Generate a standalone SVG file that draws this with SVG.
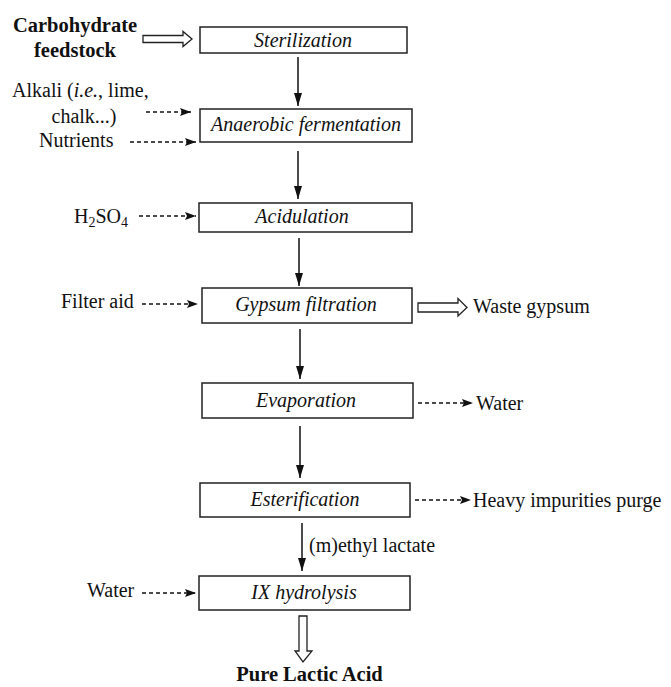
<svg xmlns="http://www.w3.org/2000/svg" width="671" height="687" viewBox="0 0 671 687">
<defs>
<marker id="ah" markerUnits="userSpaceOnUse" markerWidth="12" markerHeight="10" refX="11" refY="5" orient="auto">
<path d="M0,1 L11,5 L0,9 L2,5 Z" fill="#111"/>
</marker>
<marker id="av" markerUnits="userSpaceOnUse" markerWidth="14" markerHeight="10" refX="13" refY="5" orient="auto">
<path d="M0,1 L13,5 L0,9 Z" fill="#111"/>
</marker>
<style>
.box{fill:#fff;stroke:#222;stroke-width:1.5}
.lbl{font-family:"Liberation Serif","Times New Roman",serif;font-size:20px;font-style:italic;fill:#111;text-anchor:middle}
.t{font-family:"Liberation Serif","Times New Roman",serif;font-size:20px;fill:#111}
.b{font-family:"Liberation Serif","Times New Roman",serif;font-size:20.5px;font-weight:bold;fill:#111;text-anchor:middle}
.solid{stroke:#111;stroke-width:1.5;fill:none;marker-end:url(#av)}
.dash{stroke:#111;stroke-width:1.3;fill:none;stroke-dasharray:4 3;marker-end:url(#ah)}
.hollow{fill:#fff;stroke:#222;stroke-width:1.3;stroke-linejoin:miter}
</style>
</defs>
<rect width="671" height="687" fill="#fff"/>

<g id="connectors">
<line class="solid" x1="298" y1="57" x2="298" y2="106"/>
<line class="solid" x1="298" y1="151" x2="298" y2="199"/>
<line class="solid" x1="299" y1="238" x2="299" y2="286"/>
<line class="solid" x1="300" y1="329" x2="300" y2="379"/>
<line class="solid" x1="300" y1="426" x2="300" y2="478"/>
<line class="solid" x1="302" y1="523" x2="302" y2="571"/>
<line class="dash" x1="146" y1="112" x2="191" y2="112"/>
<line class="dash" x1="130" y1="142" x2="196" y2="142"/>
<line class="dash" x1="139" y1="216" x2="196" y2="216"/>
<line class="dash" x1="142" y1="304" x2="198" y2="304"/>
<line class="dash" x1="142" y1="593" x2="196" y2="593"/>
<line class="dash" x1="418" y1="403" x2="473" y2="403"/>
<line class="dash" x1="415" y1="500" x2="471" y2="500"/>
<path class="hollow" d="M143,35.5 L183,35.5 L183,31.5 L192,39 L183,46.5 L183,42.5 L143,42.5 Z"/>
<path class="hollow" d="M418,303 L458,303 L458,298.5 L467,307.5 L458,316 L458,312 L418,312 Z"/>
<path class="hollow" d="M299,616 L307,616 L307,651 L312,651 L303,662 L295,651 L299,651 Z"/>
<text class="t" x="309" y="552">(m)ethyl lactate</text>
</g>

<g id="sterilization">
<rect class="box" x="200" y="27" width="207" height="26"/>
<text class="lbl" x="303" y="46.5">Sterilization</text>
</g>
<g id="fermentation">
<rect class="box" x="200" y="109" width="212" height="33"/>
<text class="lbl" x="306" y="131">Anaerobic fermentation</text>
</g>
<g id="acidulation">
<rect class="box" x="199" y="203" width="213" height="29"/>
<text class="lbl" x="302" y="223">Acidulation</text>
</g>
<g id="gypsum-filtration">
<rect class="box" x="202" y="288" width="210" height="35"/>
<text class="lbl" x="306" y="311">Gypsum filtration</text>
</g>
<g id="evaporation">
<rect class="box" x="202" y="383" width="211" height="35"/>
<text class="lbl" x="306" y="407">Evaporation</text>
</g>
<g id="esterification">
<rect class="box" x="200" y="483" width="210" height="34"/>
<text class="lbl" x="305" y="506">Esterification</text>
</g>
<g id="ix-hydrolysis">
<rect class="box" x="199" y="576" width="211" height="34"/>
<text class="lbl" x="304" y="599">IX hydrolysis</text>
</g>

<g id="feedstock">
<text class="b" x="75" y="32">Carbohydrate</text>
<text class="b" x="75" y="57">feedstock</text>
</g>
<g id="alkali">
<text class="t" x="12" y="97">Alkali (<tspan font-style="italic">i.e.</tspan>, lime,</text>
<text class="t" x="84" y="123" text-anchor="middle">chalk...)</text>
</g>
<g id="nutrients"><text class="t" x="39" y="147">Nutrients</text></g>
<g id="h2so4"><text class="t" x="74" y="223">H<tspan font-size="14" dy="4">2</tspan><tspan dy="-4">SO</tspan><tspan font-size="14" dy="4">4</tspan></text></g>
<g id="filter-aid"><text class="t" x="61" y="308">Filter aid</text></g>
<g id="waste-gypsum"><text class="t" x="473" y="313">Waste gypsum</text></g>
<g id="water-out"><text class="t" x="476" y="410">Water</text></g>
<g id="purge"><text class="t" x="473" y="507">Heavy impurities purge</text></g>
<g id="water-in"><text class="t" x="87" y="597">Water</text></g>
<g id="product"><text class="b" x="309.5" y="681">Pure Lactic Acid</text></g>
</svg>
